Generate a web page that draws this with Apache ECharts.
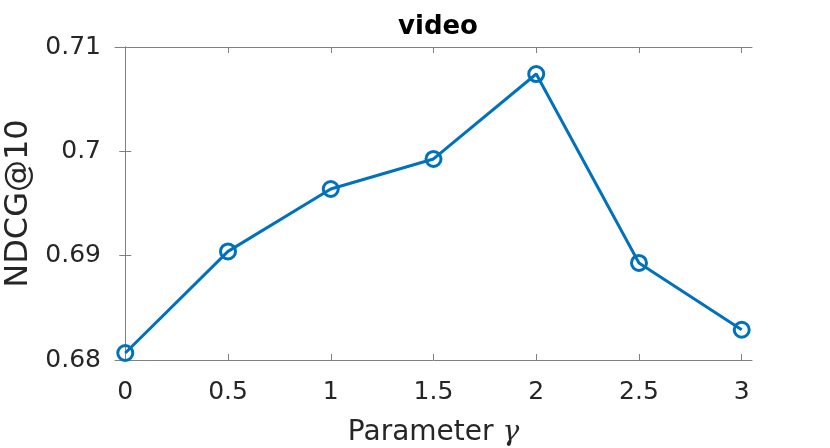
<!DOCTYPE html>
<html>
<head>
<meta charset="utf-8">
<script src="https://cdn.jsdelivr.net/npm/echarts@6/dist/echarts.min.js"></script>
<style>
  html, body { margin: 0; padding: 0; background: #fff; }
  #chart { width: 830px; height: 448px; }
</style>
</head>
<body>
<div id="chart"></div>
<script>
// 数据
const gammas = [0, 0.5, 1, 1.5, 2, 2.5, 3]
const ndcg = [0.68067, 0.69041, 0.69639, 0.69927, 0.70741, 0.6893, 0.6829]
const xTicks = [0, 0.5, 1, 1.5, 2, 2.5, 3]

const lineBlue = '#0072BD'
const axisGray = '#808080'
const textDark = '#262626'
const font = 'DejaVu Sans'

const chart = echarts.init(document.getElementById('chart'))

// x轴公共设置
const xBase = {
  type: 'value',
  min: -0.05,
  max: 3.05,
  splitLine: { show: false },
  axisLine: { show: true, lineStyle: { color: axisGray, width: 1 } },
  axisTick: { show: true, inside: true, length: 6, customValues: xTicks, lineStyle: { color: axisGray } }
}
// y轴公共设置
const yBase = {
  type: 'value',
  min: 0.68,
  max: 0.71,
  interval: 0.01,
  splitLine: { show: false },
  axisLine: { show: true, lineStyle: { color: axisGray, width: 1 } },
  axisTick: { show: true, inside: true, length: 6, lineStyle: { color: axisGray } }
}

const option = {
  animation: false,
  backgroundColor: '#fff',
  title: {
    text: 'video',
    left: 433,
    textAlign: 'center',
    top: 9,
    textStyle: { fontFamily: font, fontWeight: 'bold', fontSize: 26, color: '#000' }
  },
  grid: { left: 115, right: 78, top: 47, bottom: 88, containLabel: false, outerBoundsMode: 'none' },
  xAxis: [
    Object.assign({}, xBase, {
      position: 'bottom',
      name: 'Parameter {g|γ}',
      nameLocation: 'middle',
      nameGap: 59,
      nameTextStyle: {
        fontFamily: font, fontSize: 28, color: textDark,
        rich: { g: { fontFamily: 'DejaVu Serif', fontStyle: 'italic', fontSize: 28, color: textDark } }
      },
      axisLabel: { show: true, customValues: xTicks, margin: 20, fontFamily: font, fontSize: 25, color: textDark }
    }),
    Object.assign({}, xBase, { position: 'top', axisLabel: { show: false } })
  ],
  yAxis: [
    Object.assign({}, yBase, {
      position: 'left',
      name: 'NDCG@10',
      nameLocation: 'middle',
      nameGap: 77,
      nameTextStyle: { fontFamily: font, fontSize: 32, color: textDark },
      axisLabel: { show: true, margin: 14, fontFamily: font, fontSize: 25, color: textDark }
    }),
    Object.assign({}, yBase, { position: 'right', axisLabel: { show: false } })
  ],
  series: [
    {
      type: 'line',
      data: gammas.map((g, i) => [g, ndcg[i]]),
      symbol: 'circle',
      symbolSize: 15,
      lineStyle: { color: lineBlue, width: 3 },
      itemStyle: { color: 'rgba(0,0,0,0)', borderColor: lineBlue, borderWidth: 3 }
    }
  ]
}

chart.setOption(option)
</script>
</body>
</html>
